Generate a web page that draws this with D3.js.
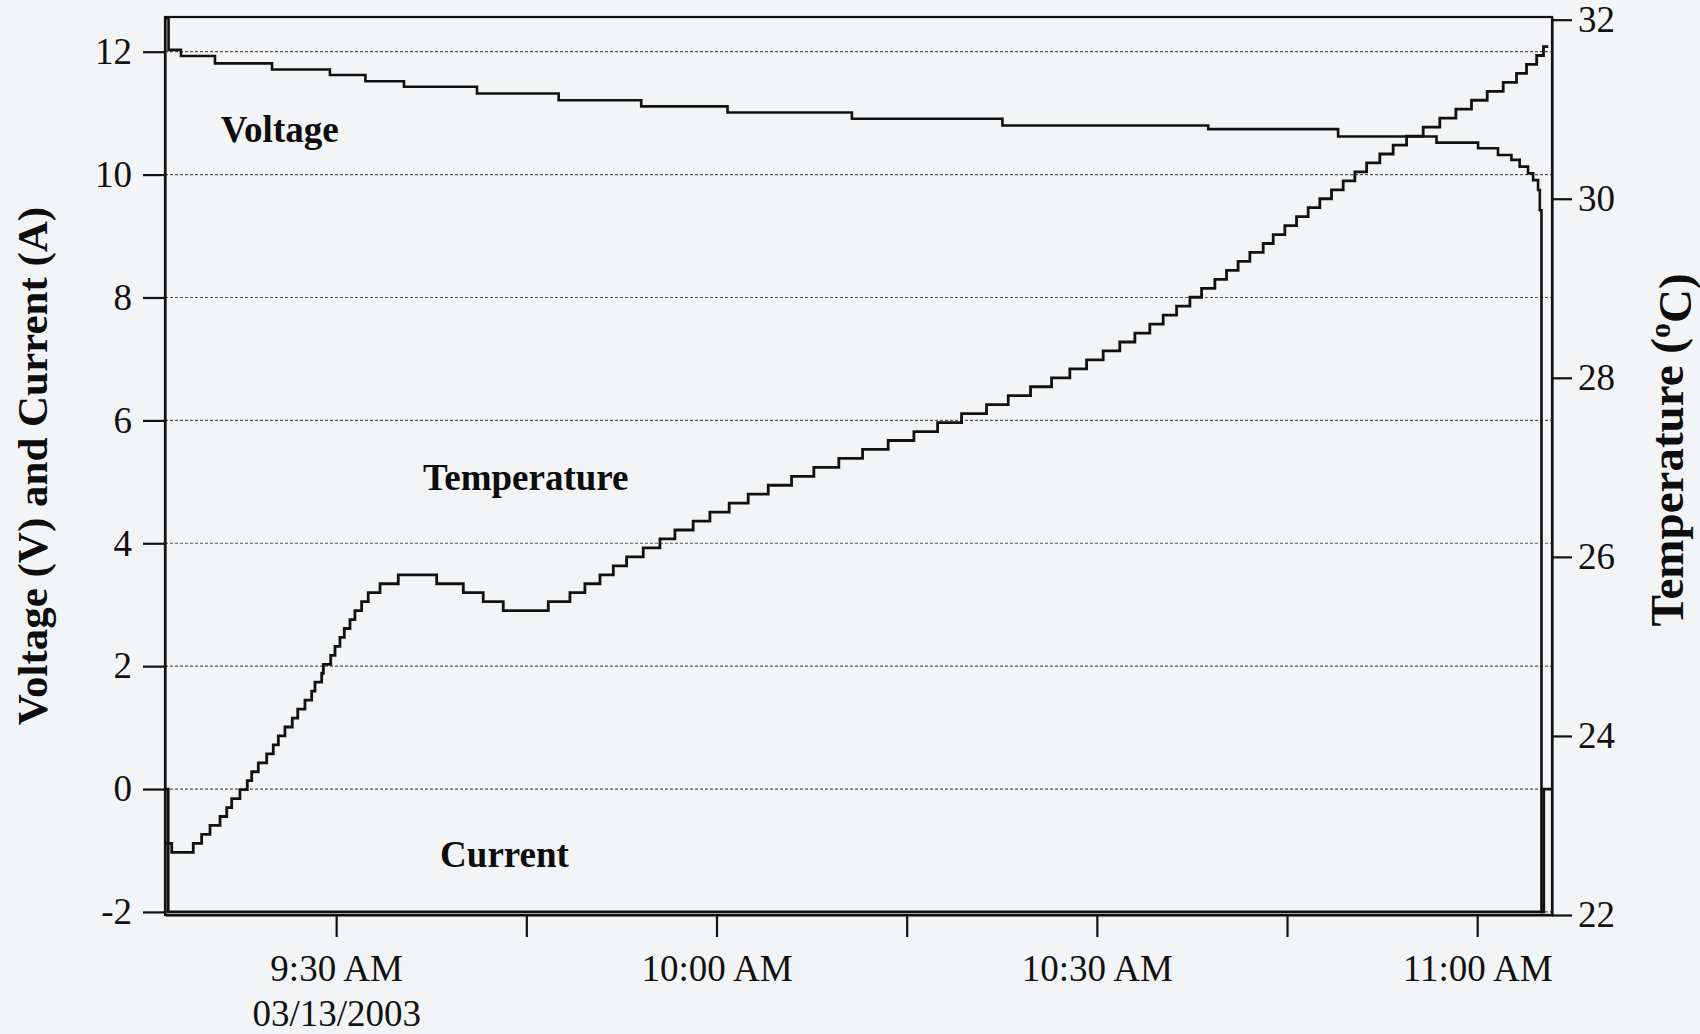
<!DOCTYPE html>
<html>
<head>
<meta charset="utf-8">
<script src="https://cdn.jsdelivr.net/npm/d3@7"></script>
<style>
  html, body { margin: 0; padding: 0; background: #f3f4f6; }
  svg { display: block; }
  .axis text { font-family: "Liberation Serif", "Times New Roman", serif; font-size: 37px; fill: #111; }
  .axis line, .axis path { stroke: #111; stroke-width: 2.2; }
  .label { font-family: "Liberation Serif", "Times New Roman", serif; font-weight: bold; fill: #0d0d0d; }
</style>
</head>
<body>
<div id="chart"></div>
<script>
// times are minutes after 9:00 AM, 03/13/2003
const voltageMinutes = [16.50, 16.78, 17.76, 20.44, 24.94, 29.51, 32.31, 35.35, 41.11, 47.55, 54.06, 60.87, 70.68,
    82.55, 98.78, 109.03, 116.79, 120.07, 121.64, 122.70, 123.35, 124.01, 124.41, 124.80, 124.94, 125.07, 125.25];
const voltageValues = [12.55, 12.03, 11.93, 11.81, 11.71, 11.62, 11.52, 11.43, 11.32, 11.21, 11.11, 11.01, 10.91,
    10.80, 10.74, 10.62, 10.52, 10.43, 10.32, 10.24, 10.13, 10.02, 9.91, 9.75, 9.42, -2.0, -2.0];

const currentMinutes = [16.50, 16.75, 125.25, 125.90];
const currentValues = [0, -2.0, 0, 0];

const tempMinutes = [16.50, 17.03, 18.73, 19.39, 20.05, 20.84, 21.37, 21.76, 22.41, 22.99, 23.34, 23.86, 24.52,
    25.04, 25.44, 25.96, 26.54, 26.97, 27.54, 28.07, 28.33, 28.86, 28.99, 29.57, 29.91, 30.30, 30.64, 31.09, 31.48,
    32.01, 32.53, 33.46, 34.90, 37.93, 40.03, 41.60, 43.18, 46.73, 48.44, 49.62, 50.81, 51.86, 52.91, 54.22, 55.54,
    56.72, 58.16, 59.48, 61.00, 62.50, 64.08, 65.92, 67.68, 69.65, 71.52, 73.54, 75.57, 77.44, 79.33, 81.30, 83.01,
    84.77, 86.43, 87.87, 89.19, 90.50, 91.81, 93.00, 94.18, 95.23, 96.29, 97.34, 98.26, 99.31, 100.23, 101.14,
    102.07, 103.12, 103.91, 104.83, 105.75, 106.67, 107.59, 108.51, 109.43, 110.35, 111.28, 112.32, 113.37, 114.43,
    115.74, 117.05, 118.32, 119.55, 120.79, 122.05, 123.10, 123.89, 124.69, 125.23, 125.60];
const tempValues = [22.8, 22.7, 22.8, 22.9, 23.0, 23.1, 23.2, 23.3, 23.4, 23.5, 23.6, 23.7, 23.8,
    23.9, 24.0, 24.1, 24.2, 24.3, 24.4, 24.5, 24.6, 24.7, 24.8, 24.9, 25.0, 25.1, 25.2, 25.3, 25.4,
    25.5, 25.6, 25.7, 25.8, 25.7, 25.6, 25.5, 25.4, 25.5, 25.6, 25.7, 25.8, 25.9, 26.0, 26.1, 26.2,
    26.3, 26.4, 26.5, 26.6, 26.7, 26.8, 26.9, 27.0, 27.1, 27.2, 27.3, 27.4, 27.5, 27.6, 27.7, 27.8,
    27.9, 28.0, 28.1, 28.2, 28.3, 28.4, 28.5, 28.6, 28.7, 28.8, 28.9, 29.0, 29.1, 29.2, 29.3,
    29.4, 29.5, 29.6, 29.7, 29.8, 29.9, 30.0, 30.1, 30.2, 30.3, 30.4, 30.5, 30.6, 30.7,
    30.8, 30.9, 31.0, 31.1, 31.2, 31.3, 31.4, 31.5, 31.6, 31.7, 31.7];

const leftTicks = [-2, 0, 2, 4, 6, 8, 10, 12];
const rightTicks = [22, 24, 26, 28, 30, 32];
const dateLabel = "03/13/2003";
const leftTitle = "Voltage (V) and Current (A)";
const rightTitle = "Temperature (";
const seriesNames = ["Voltage", "Temperature", "Current"];

let day = new Date(2003, 2, 13, 9, 0, 0);
let toTime = m => new Date(day.getTime() + m * 60000);

let margin = {top: 17, right: 148, bottom: 119, left: 165},
    width = 1700 - margin.left - margin.right,
    height = 1034 - margin.top - margin.bottom;

let svg = d3.select("#chart")
    .append("svg")
        .attr("width", 1700)
        .attr("height", 1034)
    .append("g")
        .attr("transform", `translate(${margin.left},${margin.top})`);

let x = d3.scaleTime()
    .domain([toTime(16.5), toTime(125.9)])
    .range([0, width]);

let yLeft = d3.scaleLinear()
    .domain([-2.05, 12.565])
    .range([height, 0]);

let yRight = d3.scaleLinear()
    .domain([22, 32.03])
    .range([height, 0]);

// dotted grid on the left axis values
svg.append("g")
    .selectAll("line")
    .data(leftTicks)
    .enter()
    .append("line")
        .attr("x1", 0)
        .attr("x2", width)
        .attr("y1", d => yLeft(d))
        .attr("y2", d => yLeft(d))
        .attr("stroke", "#555")
        .attr("stroke-width", 1.2)
        .attr("stroke-dasharray", "3,2");

// axes
let fmt = d3.timeFormat("%-I:%M %p");
let xAxis = svg.append("g")
    .attr("class", "axis")
    .attr("transform", `translate(0,${height})`)
    .call(d3.axisBottom(x)
        .ticks(d3.timeMinute.every(15))
        .tickSize(22)
        .tickSizeOuter(0)
        .tickPadding(18)
        .tickFormat(d => d.getMinutes() % 30 === 0 ? fmt(d) : ""));

// two-line label on the first tick: time, then the date
xAxis.selectAll(".tick text")
    .filter((d, i) => i === 0)
    .each(function() {
        let t = d3.select(this).text();
        d3.select(this).text(null);
        d3.select(this).append("tspan").attr("x", 0).text(t);
        d3.select(this).append("tspan").attr("x", 0).attr("dy", "1.22em").text(dateLabel);
    });

svg.append("g")
    .attr("class", "axis")
    .call(d3.axisLeft(yLeft).tickValues(leftTicks).tickFormat(d => String(d))
        .tickSize(22).tickSizeOuter(0).tickPadding(11));

svg.append("g")
    .attr("class", "axis")
    .attr("transform", `translate(${width},0)`)
    .call(d3.axisRight(yRight).tickValues(rightTicks).tickFormat(d => String(d))
        .tickSize(20).tickSizeOuter(0).tickPadding(6));

// frame
svg.append("rect")
    .attr("x", 0)
    .attr("y", 0)
    .attr("width", width)
    .attr("height", height)
    .attr("fill", "none")
    .attr("stroke", "#111")
    .attr("stroke-width", 2.2);

// series
let stepLine = (scale) => d3.line()
    .curve(d3.curveStepAfter)
    .x(d => x(toTime(d[0])))
    .y(d => scale(d[1]));

svg.append("path")
    .datum(d3.zip(currentMinutes, currentValues))
    .attr("fill", "none")
    .attr("stroke", "#111")
    .attr("stroke-width", 2.8)
    .attr("d", stepLine(yLeft));

svg.append("path")
    .datum(d3.zip(voltageMinutes, voltageValues))
    .attr("fill", "none")
    .attr("stroke", "#111")
    .attr("stroke-width", 2.6)
    .attr("d", stepLine(yLeft));

svg.append("path")
    .datum(d3.zip(tempMinutes, tempValues))
    .attr("fill", "none")
    .attr("stroke", "#111")
    .attr("stroke-width", 2.8)
    .attr("d", stepLine(yRight));

// series names, placed at (minutes, left-axis value)
let labelAt = [[20.9, 10.53], [36.85, 4.87], [38.2, -1.27]];
svg.append("g")
    .selectAll("text")
    .data(seriesNames)
    .enter()
    .append("text")
        .attr("class", "label")
        .attr("x", (d, i) => x(toTime(labelAt[i][0])))
        .attr("y", (d, i) => yLeft(labelAt[i][1]))
        .style("font-size", "37px")
        .text(d => d);

// axis titles
d3.select("svg").append("text")
    .attr("class", "label")
    .attr("transform", "translate(47,466) rotate(-90)")
    .attr("text-anchor", "middle")
    .style("font-size", "43px")
    .text(leftTitle);

let rt = d3.select("svg").append("text")
    .attr("class", "label")
    .attr("transform", "translate(1683,450) rotate(-90)")
    .attr("text-anchor", "middle")
    .style("font-size", "47px");
rt.append("tspan").text(rightTitle);
rt.append("tspan").attr("dy", "-0.45em").style("font-size", "30px").text("o");
rt.append("tspan").attr("dy", "0.45em").text("C)");
</script>
</body>
</html>
